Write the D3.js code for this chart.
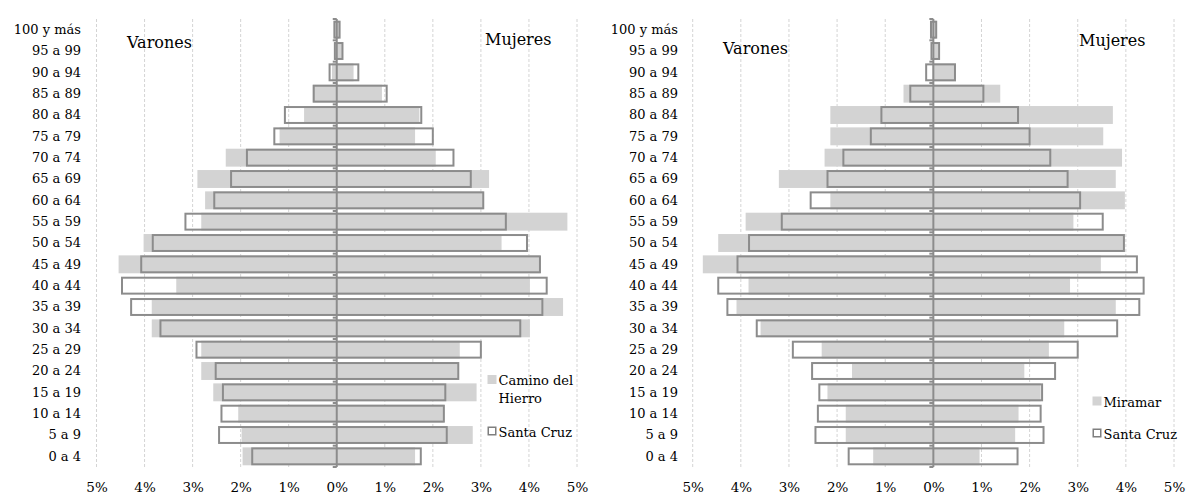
<!DOCTYPE html>
<html>
<head>
<meta charset="utf-8">
<script src="https://cdn.jsdelivr.net/npm/d3@7"></script>
<style>
  body { margin: 0; background: #fff; }
  svg text { font-family: "DejaVu Serif", serif; fill: #000; }
</style>
</head>
<body>
<div id="chart"></div>
<script>
const width = 1188;
const height = 496;

// age groups, oldest at the top
const ageGroups = ["100 y más", "95 a 99", "90 a 94", "85 a 89", "80 a 84", "75 a 79",
  "70 a 74", "65 a 69", "60 a 64", "55 a 59", "50 a 54", "45 a 49", "40 a 44",
  "35 a 39", "30 a 34", "25 a 29", "20 a 24", "15 a 19", "10 a 14", "5 a 9", "0 a 4"];

const ticks = [-5, -4, -3, -2, -1, 0, 1, 2, 3, 4, 5];

// % of population
const santaCruzMen = [0.07, 0.06, 0.17, 0.50, 1.10, 1.32, 1.89, 2.22, 2.57, 3.17, 3.85,
  4.09, 4.49, 4.30, 3.69, 2.94, 2.54, 2.39, 2.42, 2.47, 1.78];
const santaCruzWomen = [0.08, 0.14, 0.47, 1.06, 1.78, 2.02, 2.45, 2.81, 3.07, 3.54, 3.98,
  4.25, 4.39, 4.30, 3.84, 3.02, 2.55, 2.28, 2.25, 2.31, 1.77];

const caminoMen = [0.05, 0.02, 0.10, 0.50, 0.68, 1.19, 2.31, 2.90, 2.74, 2.82, 4.02,
  4.54, 3.34, 3.85, 3.85, 2.82, 2.82, 2.57, 2.05, 1.98, 1.96];
const caminoWomen = [0.05, 0.12, 0.35, 0.94, 1.72, 1.63, 2.06, 3.17, 3.05, 4.80, 3.43,
  4.23, 4.02, 4.71, 4.02, 2.56, 2.53, 2.91, 2.23, 2.83, 1.63];

const miramarMen = [0.04, 0.00, 0.02, 0.62, 2.14, 2.14, 2.26, 3.21, 2.14, 3.90, 4.47,
  4.79, 3.84, 4.09, 3.59, 2.32, 1.69, 2.20, 1.82, 1.82, 1.25];
const miramarWomen = [0.06, 0.10, 0.47, 1.39, 3.73, 3.53, 3.92, 3.79, 3.98, 2.91, 3.97,
  3.48, 2.84, 3.79, 2.72, 2.40, 1.89, 2.23, 1.77, 1.70, 0.96];

const svg = d3.select("#chart").append("svg")
  .attr("width", width)
  .attr("height", height);

function drawPyramid(opts) {
  const g = svg.append("g");
  const x = d3.scaleLinear().domain([-5, 5]).range([opts.x0, opts.x1]);
  const y = d3.scaleBand().domain(ageGroups).range([19, 467]).paddingInner(0.16).paddingOuter(0.08);

  // dashed gridlines
  g.selectAll(".grid")
    .data(ticks.filter(d => d !== 0))
    .enter().append("line")
    .attr("x1", d => x(d)).attr("x2", d => x(d))
    .attr("y1", 19).attr("y2", 467)
    .attr("stroke", "#d4d4d4")
    .attr("stroke-dasharray", "3,2");

  const rowsA = ageGroups.map((a, i) => ({ age: a, men: opts.menA[i], women: opts.womenA[i] }));
  const rowsB = ageGroups.map((a, i) => ({ age: a, men: santaCruzMen[i], women: santaCruzWomen[i] }));

  // district bars (grey)
  g.selectAll(".barA")
    .data(rowsA)
    .enter().append("rect")
    .attr("x", d => x(-d.men))
    .attr("y", d => y(d.age))
    .attr("width", d => x(d.women) - x(-d.men))
    .attr("height", y.bandwidth())
    .attr("fill", "#d3d3d3");

  // Santa Cruz (outline)
  g.selectAll(".barB")
    .data(rowsB)
    .enter().append("rect")
    .attr("x", d => x(-d.men) + 1)
    .attr("y", d => y(d.age) + 1)
    .attr("width", d => x(d.women) - x(-d.men) - 2)
    .attr("height", y.bandwidth() - 2)
    .attr("fill", "none")
    .attr("stroke", "#8c8c8c")
    .attr("stroke-width", 2);

  // centre axis with small ticks
  g.append("line")
    .attr("x1", x(0)).attr("x2", x(0))
    .attr("y1", 19).attr("y2", 467)
    .attr("stroke", "#8c8c8c")
    .attr("stroke-width", 2);
  g.selectAll(".ytick")
    .data(d3.range(ageGroups.length + 1))
    .enter().append("line")
    .attr("x1", x(0) - 4).attr("x2", x(0))
    .attr("y1", i => 19 + i * y.step())
    .attr("y2", i => 19 + i * y.step())
    .attr("stroke", "#8c8c8c")
    .attr("stroke-width", 2);

  // bottom tick labels
  const xAxis = g.append("g")
    .attr("transform", "translate(0,482)")
    .call(d3.axisBottom(x).tickValues(ticks).tickSize(0).tickPadding(0)
      .tickFormat(d => Math.abs(d) + "%"));
  xAxis.select(".domain").remove();
  xAxis.selectAll("text").style("font-size", "13.5px").style("font-family", "DejaVu Serif");

  // age labels
  const yAxis = g.append("g")
    .attr("transform", `translate(${opts.labelX},0)`)
    .call(d3.axisLeft(y).tickSize(0).tickPadding(0));
  yAxis.select(".domain").remove();
  yAxis.selectAll("text").style("font-size", "13px").style("font-family", "DejaVu Serif");

  g.append("text")
    .attr("x", opts.varonesX).attr("y", opts.varonesY)
    .style("font-size", "16px")
    .text("Varones");
  g.append("text")
    .attr("x", opts.mujeresX).attr("y", opts.mujeresY)
    .style("font-size", "16px")
    .text("Mujeres");

  // legend
  const lg = g.append("g").attr("transform", `translate(${opts.legendX},0)`);
  opts.legend.forEach(item => {
    if (item.box === "fill") {
      lg.append("rect").attr("x", 0).attr("y", item.y - 9).attr("width", 9).attr("height", 9)
        .attr("fill", "#d3d3d3");
    } else if (item.box === "outline") {
      lg.append("rect").attr("x", 0.75).attr("y", item.y - 8.25).attr("width", 7.5).attr("height", 7.5)
        .attr("fill", "none").attr("stroke", "#7f7f7f").attr("stroke-width", 1.5);
    }
    lg.append("text").attr("x", 11).attr("y", item.y + 1)
      .style("font-size", "13px")
      .text(item.label);
  });
}

drawPyramid({
  x0: 96.5, x1: 577,
  menA: caminoMen, womenA: caminoWomen,
  labelX: 81,
  varonesX: 127, varonesY: 48,
  mujeresX: 485, mujeresY: 45,
  legendX: 487.5,
  legend: [
    { box: "fill", y: 384, label: "Camino del" },
    { box: null, y: 402, label: "Hierro" },
    { box: "outline", y: 435.5, label: "Santa Cruz" }
  ]
});

drawPyramid({
  x0: 692.7, x1: 1174,
  menA: miramarMen, womenA: miramarWomen,
  labelX: 678,
  varonesX: 723, varonesY: 54,
  mujeresX: 1079, mujeresY: 46,
  legendX: 1092.5,
  legend: [
    { box: "fill", y: 405.5, label: "Miramar" },
    { box: "outline", y: 437.5, label: "Santa Cruz" }
  ]
});
</script>
</body>
</html>
